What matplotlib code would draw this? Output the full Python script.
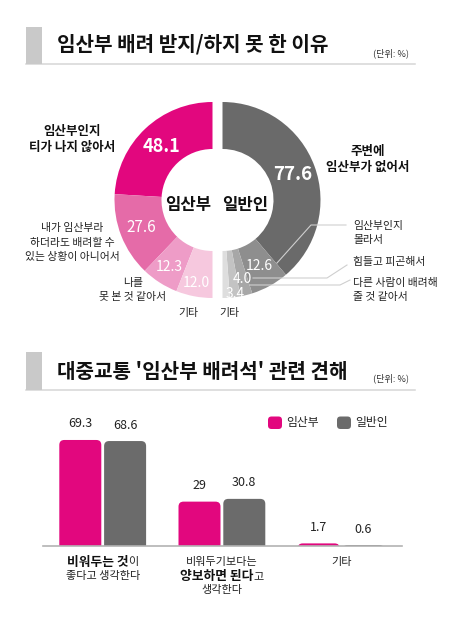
import matplotlib
matplotlib.use('Agg')
import matplotlib.pyplot as plt
from matplotlib.patches import FancyBboxPatch, Rectangle
import numpy as np

plt.rcParams['font.family'] = ['Noto Sans CJK KR', 'DejaVu Sans']

W, H = 458, 635

# ---------------- data ----------------
title1 = '임산부 배려 받지/하지 못 한 이유'
title2 = "대중교통 '임산부 배려석' 관련 견해"
unit_label = '(단위: %)'
groups = ['임산부', '일반인']

pregnant_reasons = ['임산부인지\n티가 나지 않아서',
                    '내가 임산부라\n하더라도 배려할 수\n있는 상황이 아니어서',
                    '나를\n못 본 것 같아서',
                    '기타']
pregnant_values = [48.1, 27.6, 12.3, 12.0]

public_reasons = ['주변에\n임산부가 없어서',
                  '임산부인지\n몰라서',
                  '힘들고 피곤해서',
                  '다른 사람이 배려해\n줄 것 같아서',
                  '기타']
public_values = [77.6, 12.6, 4.0, 3.4, 2.4]
public_shown = [True, True, True, True, False]

seat_categories = ['**비워두는 것**이\n좋다고 생각한다',
                   '비워두기보다는\n**양보하면 된다**고\n생각한다',
                   '기타']
seat_pregnant = [69.3, 29, 1.7]
seat_public = [68.6, 30.8, 0.6]

# ---------------- style ----------------
PINK = '#E2077E'
GRAY = '#6B6B6B'
pink_shades = ['#E2077E', '#E56BA8', '#EE9CC7', '#F6C8DE']
gray_shades = ['#6A6A6A', '#8E8E8E', '#A7A7A7', '#C3C3C3', '#DEDEDE']
TXT = '#222222'

fig = plt.figure(figsize=(W / 100, H / 100), dpi=100)
fig.patch.set_facecolor('white')
ax = fig.add_axes([0, 0, 1, 1])
renderer = fig.canvas.get_renderer()


def T(x, y, s, size, weight='normal', color=TXT, ha='center', va='center', **kw):
    return ax.text(x, H - y, s, fontsize=size, fontweight=weight, color=color,
                   ha=ha, va=va, **kw)


def lines(x, y0, s, size, dy, weight='normal', ha='center', color=TXT):
    for i, ln in enumerate(s.split('\n')):
        T(x, y0 + i * dy, ln, size, weight=weight, ha=ha, color=color)


def rich_line(xc, y, line, size_norm, size_bold):
    parts = line.split('**')
    pieces = []
    for i, p in enumerate(parts):
        if p:
            pieces.append((p, 'bold' if i % 2 == 1 else 'normal'))
    arts = []
    for p, w in pieces:
        t = T(0, y, p, size_bold if w == 'bold' else size_norm, weight=w, ha='left',
              color='#111111' if w == 'bold' else TXT)
        arts.append(t)
    widths = [a.get_window_extent(renderer).width for a in arts]
    x = xc - sum(widths) / 2
    for a, wd in zip(arts, widths):
        a.set_x(x)
        x += wd


def section_header(y_top, y_bot, text, y_text, y_unit):
    ax.add_patch(Rectangle((26, H - y_bot), 16, y_bot - y_top, color='#C9C9C9', lw=0, zorder=1))
    ax.plot([26, 415], [H - y_bot + 0.5, H - y_bot + 0.5], color='#D6D6D6', lw=1.1, zorder=0)
    T(57, y_text, text, 14.5, weight='bold', color='#111111', ha='left')
    T(373, y_unit, unit_label, 6.6, ha='left', color='#333333')


section_header(27, 64, title1, 44, 53)
section_header(352, 390, title2, 371, 378)

# ---------------- donut ----------------
R_OUT, R_W = 98, 47
cy = H - 200
wl, _ = ax.pie(np.array(pregnant_values) / 200.0, normalize=False, startangle=90,
               counterclock=True, radius=R_OUT, center=(212.5, cy), colors=pink_shades,
               wedgeprops=dict(width=R_W, linewidth=0), frame=True)
wr, _ = ax.pie(np.array(public_values) / 200.0, normalize=False, startangle=90,
               counterclock=False, radius=R_OUT, center=(222.5, cy), colors=gray_shades,
               wedgeprops=dict(width=R_W, linewidth=0), frame=True)
ax.set_xlim(0, W)
ax.set_ylim(0, H)
ax.set_aspect('auto')
ax.axis('off')


def wedge_label(w, center, r, s, size, weight):
    th = np.deg2rad((w.theta1 + w.theta2) / 2)
    ax.text(center[0] + r * np.cos(th), center[1] + r * np.sin(th), s, fontsize=size,
            fontweight=weight, color='white', ha='center', va='center')


l_r = [74, 76, 80, 84]
l_size = [13, 11, 10, 10]
l_wt = ['bold', 'normal', 'normal', 'normal']
for w, v, r, sz, wt in zip(wl, pregnant_values, l_r, l_size, l_wt):
    wedge_label(w, (212.5, cy), r, f'{v:.1f}', sz, wt)

r_r = [75, 76, 81, 95]
r_size = [13.5, 10, 10, 10]
r_wt = ['bold', 'normal', 'normal', 'normal']
for w, v, shown, r, sz, wt in zip(wr, public_values, public_shown, r_r, r_size, r_wt):
    if shown:
        wedge_label(w, (222.5, cy), r, f'{v:.1f}', sz, wt)

T(188.5, 205, groups[0], 12, weight='bold', color='#111111')
T(245.5, 205, groups[1], 12, weight='bold', color='#111111')

# left labels
lines(72, 132, pregnant_reasons[0], 9, 15, weight='bold', color='#111111')
lines(72, 228, pregnant_reasons[1], 7.8, 14.5)
lines(133, 283, pregnant_reasons[2], 7.8, 14)
T(188, 313, pregnant_reasons[3], 7.8)

# right labels
lines(368, 152, public_reasons[0], 9, 15, weight='bold', color='#111111')
lines(353, 226, public_reasons[1], 7.8, 14, ha='left')
lines(353, 262, public_reasons[2], 7.8, 14, ha='left')
lines(353, 283, public_reasons[3], 7.8, 14, ha='left')
T(229, 313, public_reasons[4], 7.8)

# leader lines
leaders = [([277, 311, 346], [263, 225, 225]),
           ([253, 327, 347], [278, 278, 265]),
           ([250, 340, 350], [285, 285, 280])]
for xs, ys in leaders:
    ax.plot(xs, [H - y for y in ys], color='#CFCFCF', lw=0.8, zorder=3)

# ---------------- bar chart ----------------
PXU = 119.2      # px per category
PYU = 1.53       # px per percent
base_py = 546
ax2 = fig.add_axes([43 / W, (H - base_py) / H, 359 / W, 146 / H])
ax2.set_xlim((43 - 102.7) / PXU, (402 - 102.7) / PXU)
ax2.set_ylim(0, 146 / PYU)
ax2.axis('off')

x = np.arange(len(seat_categories))
off, bw = 22.4 / PXU, 42 / PXU
b1 = ax2.bar(x - off, seat_pregnant, bw, color=PINK)
b2 = ax2.bar(x + off, seat_public, bw, color=GRAY)

asp = (1 / PYU) / (1 / PXU)
rad = 5 / PXU
for cont, col in ((b1, PINK), (b2, GRAY)):
    for rect in cont.patches:
        x0, w, h = rect.get_x(), rect.get_width(), rect.get_height()
        rect.set_visible(False)
        ax2.add_patch(FancyBboxPatch((x0, -10), w, h + 10,
                                     boxstyle=f'round,pad=0,rounding_size={rad}',
                                     mutation_aspect=asp, fc=col, ec='none', lw=0))
        ax2.annotate(f'{h:g}', (x0 + w / 2, h), xytext=(0, 11.5), textcoords='offset points',
                     ha='center', va='center', fontsize=9, color=TXT)

ax2.axhline(0, color='#B3B3B3', lw=1.2, clip_on=False, zorder=5)

# legend
for (lx, col, name) in ((268, PINK, groups[0]), (337, GRAY, groups[1])):
    ax.add_patch(FancyBboxPatch((lx, H - 429), 14, 12.5,
                                boxstyle='round,pad=0,rounding_size=3.5', fc=col, ec='none'))
    T(lx + 18, 422.5, name, 8.5, ha='left')

# category labels
cat_x = [102.7 + PXU * i for i in range(len(seat_categories))]
for xc, cat in zip(cat_x, seat_categories):
    for i, ln in enumerate(cat.split('\n')):
        rich_line(xc, 562.5 + i * 14, ln, 8, 9.2)

fig.savefig('out.png', dpi=100, facecolor='white')
